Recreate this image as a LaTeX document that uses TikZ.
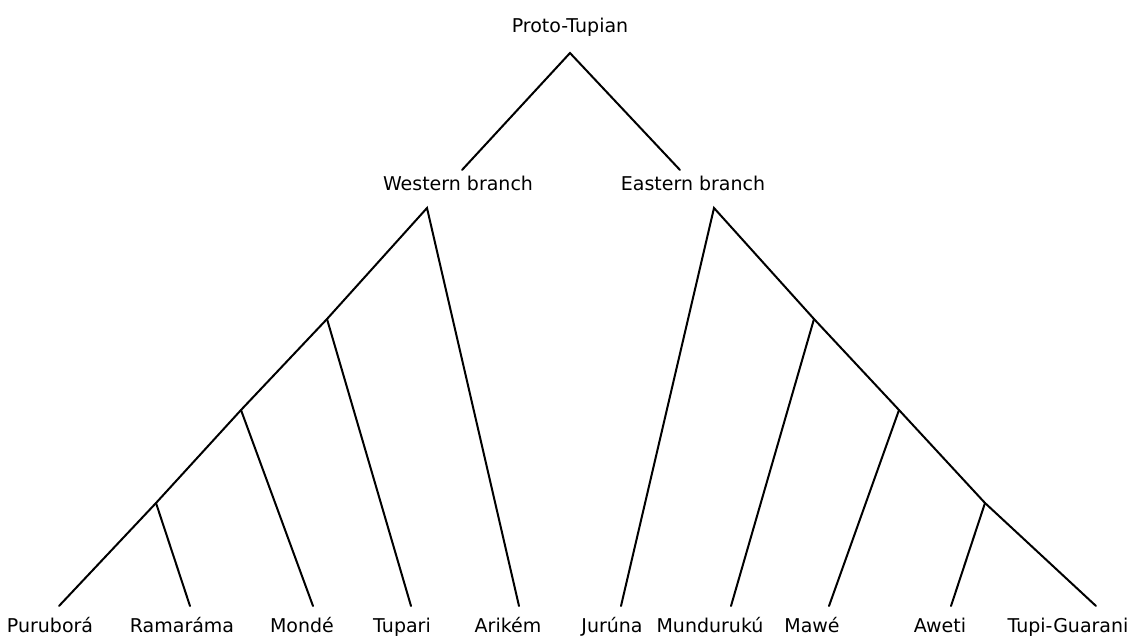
\documentclass[tikz,border=0pt]{standalone}
\usepackage{fontspec}
\setmainfont{DejaVu Sans}
\begin{document}
\begin{tikzpicture}[x=1pt,y=-1pt,
  lbl/.style={font=\fontsize{19}{22}\selectfont, inner sep=0pt, anchor=base},
  edge/.style={line width=2pt, line cap=round}]
\useasboundingbox (0,0) rectangle (1129,639);
% labels
\node[lbl] (pt) at (570,33) {Proto-Tupian};
\node[lbl] (wb) at (458,190) {Western branch};
\node[lbl] (eb) at (693,190) {Eastern branch};
\node[lbl] (l1) at (50,632) {Puruborá};
\node[lbl] (l2) at (182,632) {Ramaráma};
\node[lbl] (l3) at (302,632) {Mondé};
\node[lbl] (l4) at (402,632) {Tupari};
\node[lbl] (l5) at (508,632) {Arikém};
\node[lbl] (l6) at (612,632) {Jurúna};
\node[lbl] (l7) at (710,632) {Mundurukú};
\node[lbl] (l8) at (812,632) {Mawé};
\node[lbl] (l9) at (940,632) {Aweti};
\node[lbl] (l10) at (1068,632) {Tupi-Guarani};
% junction points
\coordinate (p0) at (570,53);
\coordinate (pw) at (462,170);
\coordinate (pe) at (680,170);
\coordinate (w0) at (427,208);
\coordinate (e0) at (714,208);
\coordinate (w1) at (327,319);
\coordinate (w2) at (241,410);
\coordinate (w3) at (156,503);
\coordinate (e1) at (814,319);
\coordinate (e2) at (899,410);
\coordinate (e3) at (985,503);
\coordinate (t1) at (59,606);
\coordinate (t2) at (190,606);
\coordinate (t3) at (313,606);
\coordinate (t4) at (411,606);
\coordinate (t5) at (519,606);
\coordinate (t6) at (621,606);
\coordinate (t7) at (731,606);
\coordinate (t8) at (829,606);
\coordinate (t9) at (951,606);
\coordinate (t10) at (1096,606);
% connectors
\draw[edge] (pw) -- (p0) -- (pe);
\draw[edge] (t1) -- (w3) -- (w2) -- (w1) -- (w0) -- (t5);
\draw[edge] (w3) -- (t2);
\draw[edge] (w2) -- (t3);
\draw[edge] (w1) -- (t4);
\draw[edge] (t6) -- (e0) -- (e1) -- (e2) -- (e3) -- (t10);
\draw[edge] (e1) -- (t7);
\draw[edge] (e2) -- (t8);
\draw[edge] (e3) -- (t9);
\end{tikzpicture}
\end{document}
